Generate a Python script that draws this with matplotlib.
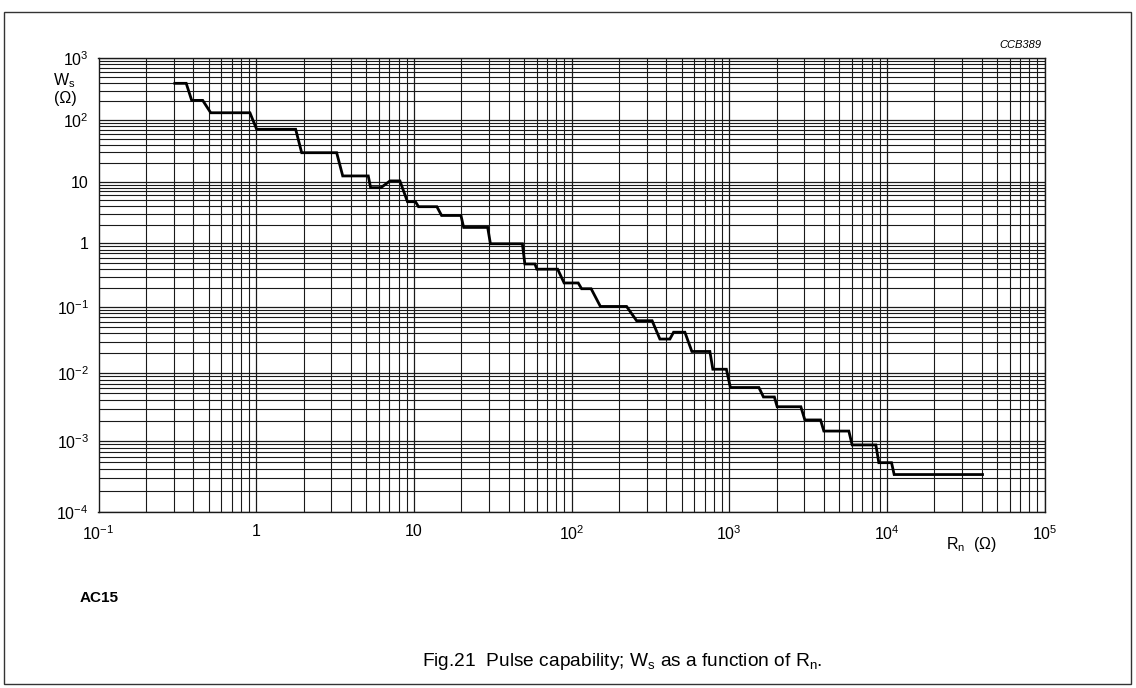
import numpy as np
import matplotlib
matplotlib.use("Agg")
import matplotlib.pyplot as plt
from matplotlib.ticker import LogLocator, FixedLocator, FixedFormatter, NullFormatter
from matplotlib.patches import Rectangle

plt.rcParams['font.family'] = ['Liberation Sans', 'DejaVu Sans']
plt.rcParams['mathtext.fontset'] = 'custom'
plt.rcParams['mathtext.rm'] = 'Liberation Sans'
plt.rcParams['mathtext.it'] = 'Liberation Sans:italic'

# step curve vertices: R_n (ohm) -> W_s
rn = [0.305, 0.36, 0.39, 0.458, 0.515, 0.913, 1.007, 1.78, 1.944, 3.24,
      3.54, 5.14, 5.32, 6.18, 7.06, 8.16, 9.11, 10.24, 10.7, 14.0,
      15.0, 19.9, 20.7, 29.4, 30.6, 48.8, 50.6, 58.6, 60.3, 81.7,
      89.8, 110.3, 115.9, 133.2, 152.5, 223.6, 258.7, 324.5, 363.6, 420.7,
      444.1, 523.7, 580, 754.4, 788, 960, 1018, 1543, 1650, 1935,
      2016, 2849, 3020, 3798, 3986, 5741, 6026, 8518, 8897, 10710,
      11130, 29030, 40450]
ws = [393, 393, 208, 208, 131, 131, 70.7, 70.7, 29.5, 29.5,
      12.4, 12.4, 8.0, 8.0, 10.3, 10.3, 4.75, 4.75, 3.94, 3.94,
      2.84, 2.84, 1.82, 1.82, 0.99, 0.99, 0.476, 0.476, 0.394, 0.394,
      0.239, 0.239, 0.194, 0.194, 0.102, 0.102, 0.062, 0.062, 0.0327, 0.0327,
      0.0415, 0.0415, 0.0212, 0.0212, 0.0114, 0.0114, 0.00612, 0.00612, 0.00444, 0.00444,
      0.00319, 0.00319, 0.00204, 0.00204, 0.0014, 0.0014, 0.00088, 0.00088, 0.000495, 0.000495,
      0.000337, 0.000337, 0.000337]

x_ticks = [1e-1, 1, 10, 1e2, 1e3, 1e4, 1e5]
x_labels = [r'$10^{-1}$', '1', '10', r'$10^{2}$', r'$10^{3}$', r'$10^{4}$', r'$10^{5}$']
y_ticks = [1e-4, 1e-3, 1e-2, 1e-1, 1, 10, 1e2, 1e3]
y_labels = [r'$10^{-4}$', r'$10^{-3}$', r'$10^{-2}$', r'$10^{-1}$', '1', '10', r'$10^{2}$', r'$10^{3}$']

# the printed grid is not quite even: decades get taller towards the bottom
dec_exp = np.arange(-4, 4)
dec_pos = np.concatenate([[0], np.cumsum([71, 68, 66, 63.5, 61.8, 61.7, 61.7])])


def fwd(v):
    v = np.asarray(v, dtype=float)
    lv = np.log10(np.clip(v, 1e-12, None))
    return np.interp(lv, dec_exp, dec_pos, left=-1e3, right=1e3)


def inv(t):
    return 10 ** np.interp(t, dec_pos, dec_exp)


fig = plt.figure(figsize=(11.36, 6.88), dpi=100)
ax = fig.add_axes([98.5 / 1136, 1 - 512 / 688, (1044.5 - 98.5) / 1136, (512 - 58.3) / 688])

ax.plot(rn, ws, color='black', lw=2.0, solid_joinstyle='miter', zorder=3)

ax.set_xscale('log')
ax.set_yscale('function', functions=(fwd, inv))
ax.set_xlim(1e-1, 1e5)
ax.set_ylim(1e-4, 1e3)

ax.xaxis.set_major_locator(FixedLocator(x_ticks))
ax.xaxis.set_major_formatter(FixedFormatter(x_labels))
ax.yaxis.set_major_locator(FixedLocator(y_ticks))
ax.yaxis.set_major_formatter(FixedFormatter(y_labels))
ax.xaxis.set_minor_locator(LogLocator(base=10, subs=np.arange(2, 10), numticks=20))
ax.yaxis.set_minor_locator(LogLocator(base=10, subs=np.arange(2, 10), numticks=20))
ax.xaxis.set_minor_formatter(NullFormatter())
ax.yaxis.set_minor_formatter(NullFormatter())

ax.grid(True, which='major', color='#1a1a1a', lw=0.9)
ax.grid(True, which='minor', color='#1a1a1a', lw=0.8)
ax.set_axisbelow(True)
ax.tick_params(which='both', length=0, labelsize=11.5)
ax.tick_params(axis='x', pad=9)
ax.tick_params(axis='y', pad=7)
for s in ax.spines.values():
    s.set_color('#1a1a1a')
    s.set_linewidth(1.0)

# axis titles
fig.text(64 / 1136, 1 - 81 / 688, r'W$_\mathregular{s}$', ha='center', va='center', fontsize=11.5)
fig.text(65 / 1136, 1 - 98 / 688, '(Ω)', ha='center', va='center', fontsize=11.5)
fig.text(971 / 1136, 1 - 544 / 688, r'R$_\mathregular{n}$  (Ω)', ha='center', va='center', fontsize=11.5)

fig.text(1042 / 1136, 1 - 45.5 / 688, 'CCB389', ha='right', va='center', fontsize=8, style='italic')
fig.text(80 / 1136, 1 - 598 / 688, 'AC15', ha='left', va='center', fontsize=11, weight='bold')
fig.text(622 / 1136, 1 - 662 / 688, r'Fig.21  Pulse capability; W$_\mathregular{s}$ as a function of R$_\mathregular{n}$.',
         ha='center', va='center', fontsize=13.8)

# page border
fig.patches.append(Rectangle((4 / 1136, 4 / 688), 1127 / 1136, 672 / 688, transform=fig.transFigure,
                             fill=False, edgecolor='#333333', lw=1.0))

fig.savefig('out.png', dpi=100)
